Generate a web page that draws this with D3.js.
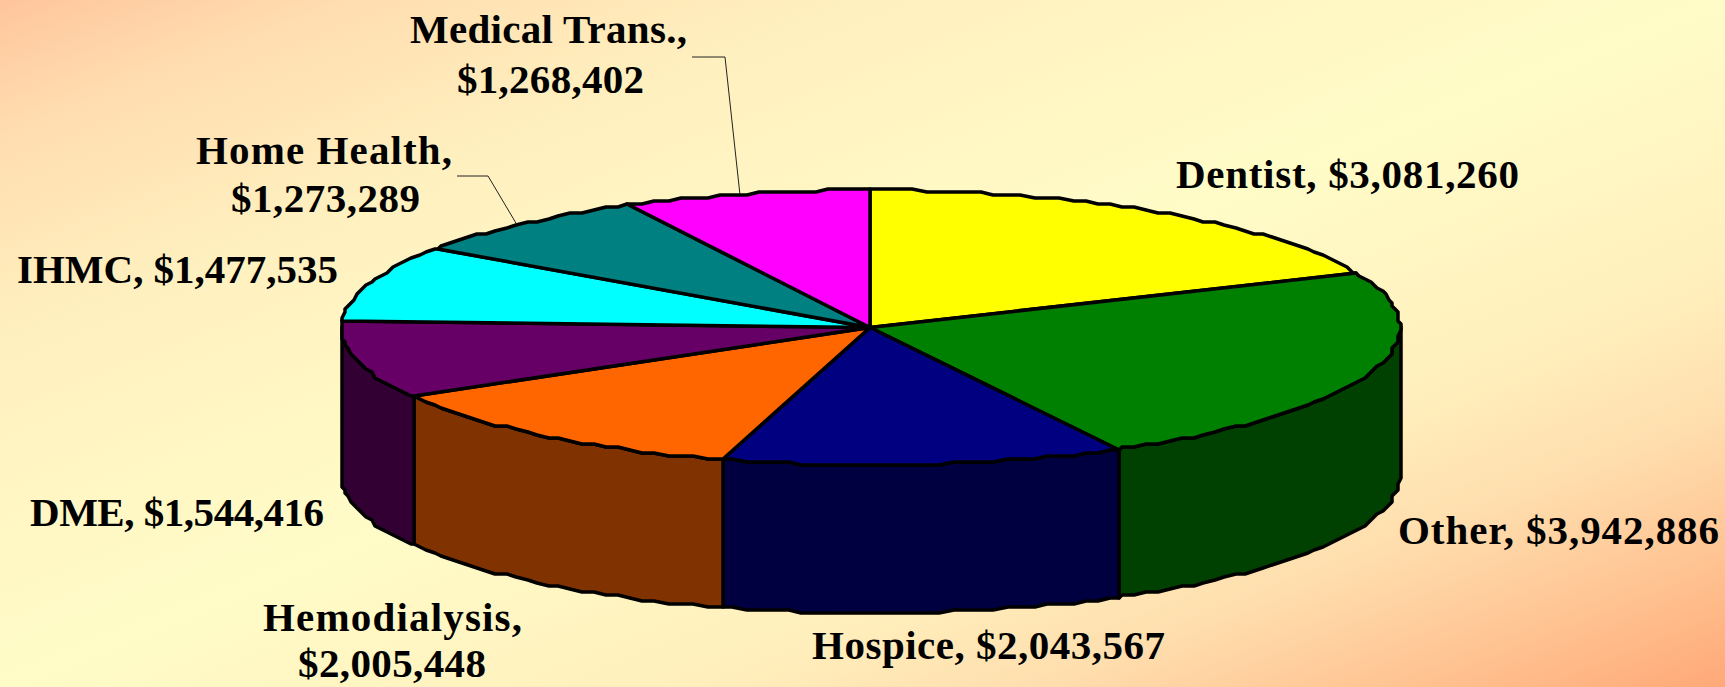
<!DOCTYPE html>
<html>
<head>
<meta charset="utf-8">
<script src="https://cdn.jsdelivr.net/npm/d3@7"></script>
<style>
  html, body { margin: 0; padding: 0; overflow: hidden; }
  svg { display: block; }
</style>
</head>
<body>
<div class="chart"></div>
<script>
const categories = ["Dentist", "Other", "Hospice", "Hemodialysis", "DME", "IHMC", "Home Health", "Medical Trans."];
const amounts = [3081260, 3942886, 2043567, 2005448, 1544416, 1477535, 1273289, 1268402];

const topColors = ["#ffff00", "#008000", "#000080", "#ff6600", "#660066", "#00ffff", "#008080", "#ff00ff"];
const wallColors = ["#808000", "#004000", "#000040", "#803300", "#330033", "#008080", "#004040", "#800080"];

// label lines: text, left x, right x, baseline
const labelLines = [
  ["Medical Trans.,", 410, 687, 43],
  ["$1,268,402", 457, 644, 93],
  ["Home Health,", 196, 452, 164],
  ["$1,273,289", 231, 420, 212],
  ["IHMC, $1,477,535", 17, 338, 283],
  ["Dentist, $3,081,260", 1176, 1519, 188],
  ["Other, $3,942,886", 1398, 1719, 544],
  ["Hospice, $2,043,567", 812, 1165, 659],
  ["DME, $1,544,416", 30, 324, 526],
  ["Hemodialysis,", 263, 522, 631],
  ["$2,005,448", 298, 486, 677]
];

const width = 1725;
const height = 687;
const depth = 148;
const step = Math.PI / 120;
const grid = 3;

const svg = d3
  .select(".chart")
  .append("svg")
  .attr("width", width)
  .attr("height", height);

const xScale = d3.scaleLinear().domain([-1, 1]).range([341, 1400]);
const yScale = d3.scaleLinear().domain([-1, 1]).range([190, 465]);

const slices = d3.pie().sort(null).value((d) => d)(amounts);

function snap(v) {
  return Math.round(v / grid) * grid;
}

// the source outline is stepped, so rim points snap to a coarse grid
function rimPoint(angle, drop) {
  return [snap(xScale(Math.sin(angle))), snap(yScale(-Math.cos(angle))) + drop];
}

function rimPoints(a0, a1, drop) {
  let points = [rimPoint(a0, drop)];
  let first = Math.ceil(a0 / step + 0.001);
  let last = Math.floor(a1 / step - 0.001);
  for (let i = first; i <= last; i++) {
    points.push(rimPoint(i * step, drop));
  }
  points.push(rimPoint(a1, drop));
  return points;
}

function drawBackground() {
  let gradient = svg
    .append("defs")
    .append("linearGradient")
    .attr("id", "backdrop")
    .attr("x1", 0)
    .attr("y1", 0)
    .attr("x2", 1)
    .attr("y2", 1);

  [
    [0, "#ffc59c"],
    [0.1, "#ffddb0"],
    [0.25, "#fff0bf"],
    [0.5, "#fffcc8"],
    [0.7, "#ffefbc"],
    [0.8, "#ffdeae"],
    [0.9, "#ffc493"],
    [1, "#ffa878"]
  ].forEach((s) => {
    gradient.append("stop").attr("offset", s[0]).attr("stop-color", s[1]);
  });

  svg
    .append("rect")
    .attr("width", width)
    .attr("height", height)
    .attr("fill", "url(#backdrop)");
}

function drawWalls() {
  let line = d3.line();
  slices.forEach((s) => {
    let a0 = Math.max(s.startAngle, Math.PI / 2);
    let a1 = Math.min(s.endAngle, (3 * Math.PI) / 2);
    if (a1 <= a0) return;
    let top = rimPoints(a0, a1, 0);
    let bottom = rimPoints(a0, a1, depth).reverse();
    svg
      .append("path")
      .attr("d", line(top.concat(bottom)) + "Z")
      .attr("fill", wallColors[s.index])
      .attr("stroke", "#000")
      .attr("stroke-width", 3.5)
      .attr("stroke-linejoin", "round");
  });
}

function drawTop() {
  let line = d3.line();
  let center = [snap(xScale(0)), yScale(0)];
  slices.forEach((s) => {
    let points = [center].concat(rimPoints(s.startAngle, s.endAngle, 0));
    svg
      .append("path")
      .attr("d", line(points) + "Z")
      .attr("fill", topColors[s.index])
      .attr("stroke", "#000")
      .attr("stroke-width", 3.5)
      .attr("stroke-linejoin", "round");
  });
}

function drawLeaders() {
  // elbow start and bend for the two labels that sit away from their slice
  let leaders = [
    ["Medical Trans.", [692, 57], [725, 57]],
    ["Home Health", [457, 176], [488, 176]]
  ];
  leaders.forEach((l) => {
    let s = slices[categories.indexOf(l[0])];
    let mid = (s.startAngle + s.endAngle) / 2;
    let end = [xScale(Math.sin(mid)) - 5, yScale(-Math.cos(mid))];
    svg
      .append("path")
      .attr("d", d3.line()([l[1], l[2], end]))
      .attr("fill", "none")
      .attr("stroke", "#222")
      .attr("stroke-width", 1);
  });
}

function drawLabels() {
  svg
    .append("g")
    .selectAll("text")
    .data(labelLines)
    .enter()
    .append("text")
    .text((d) => d[0])
    .attr("x", (d) => d[1])
    .attr("y", (d) => d[3])
    .attr("textLength", (d) => d[2] - d[1])
    .attr("lengthAdjust", "spacing")
    .style("font-family", "'Liberation Serif', serif")
    .style("font-weight", "bold")
    .style("font-size", "41px")
    .style("fill", "#000");
}

drawBackground();
drawWalls();
drawTop();
drawLeaders();
drawLabels();
</script>
</body>
</html>
